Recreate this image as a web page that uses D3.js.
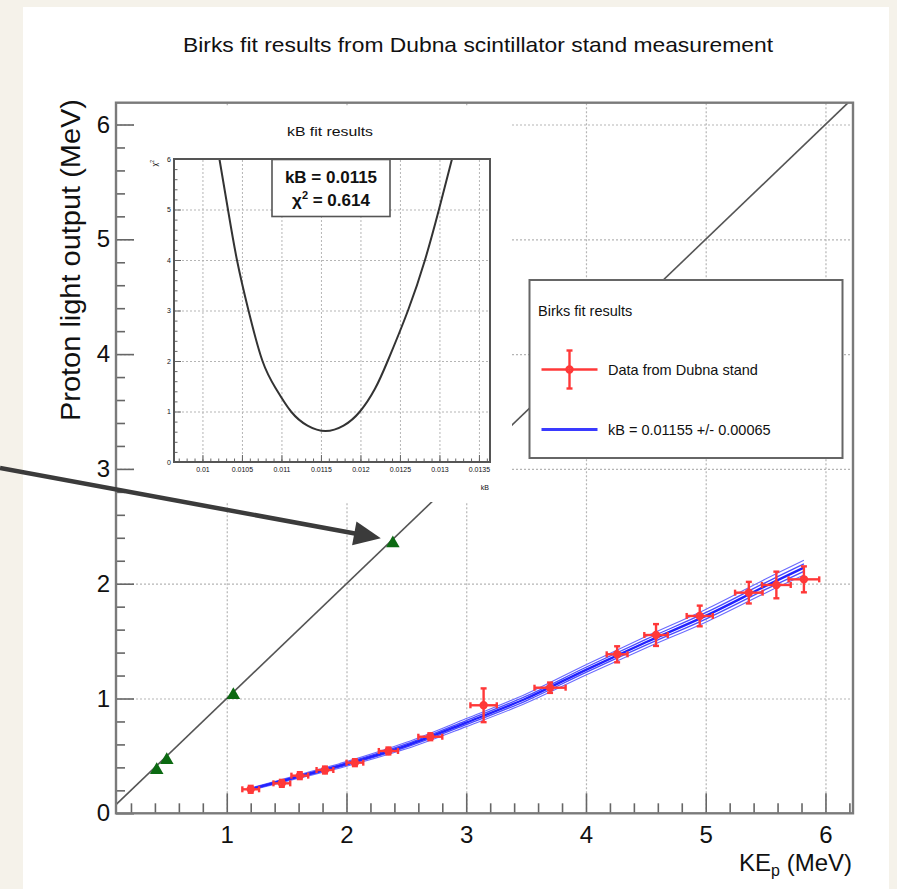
<!DOCTYPE html>
<html>
<head>
<meta charset="utf-8">
<script src="https://cdn.jsdelivr.net/npm/d3@7"></script>
<style>
  html, body { margin: 0; padding: 0; background: #f5f2ea; }
  svg { display: block; }
  text { font-family: "Liberation Sans", Arial, Helvetica, sans-serif; fill: #111; }
</style>
</head>
<body>
<svg id="chart" width="897" height="889"></svg>
<script>
// ---- Dubna stand measurements (proton kinetic energy vs light output) ----
const keP      = [1.20, 1.46, 1.61, 1.82, 2.07, 2.35, 2.70, 3.145, 3.70, 4.26, 4.585, 4.95, 5.36, 5.59, 5.82];
const lightOut = [0.209, 0.261, 0.328, 0.377, 0.441, 0.543, 0.667, 0.941, 1.094, 1.385, 1.553, 1.719, 1.922, 1.989, 2.038];
const keErr    = [0.07, 0.07, 0.07, 0.07, 0.07, 0.08, 0.10, 0.11, 0.13, 0.087, 0.098, 0.109, 0.115, 0.12, 0.128];
const lightErr = [0.03, 0.03, 0.03, 0.03, 0.03, 0.03, 0.03, 0.147, 0.045, 0.07, 0.095, 0.09, 0.094, 0.116, 0.113];

// ---- calibration points on the unit line ----
const calibX = [0.415, 0.499, 1.055, 2.387];
const calibY = [0.377, 0.464, 1.030, 2.352];
const unitLineX = [0.075, 6.19];
const unitLineY = [0.075, 6.19];

// ---- Birks curves: central kB and the +/- error variants ----
const fitKE      = [1.2, 1.6, 2.0, 2.5, 3.0, 3.5, 4.0, 4.5, 5.0, 5.5, 5.82];
const fitCentral = [0.210, 0.320, 0.430, 0.590, 0.790, 1.000, 1.250, 1.490, 1.720, 1.980, 2.140];
const fitOuterHi = [0.220, 0.335, 0.450, 0.618, 0.825, 1.040, 1.295, 1.540, 1.775, 2.040, 2.205];
const fitInnerHi = [0.215, 0.328, 0.440, 0.604, 0.808, 1.020, 1.272, 1.515, 1.748, 2.010, 2.172];
const fitInnerLo = [0.205, 0.312, 0.420, 0.576, 0.772, 0.980, 1.228, 1.465, 1.692, 1.950, 2.108];
const fitOuterLo = [0.200, 0.305, 0.410, 0.562, 0.755, 0.960, 1.205, 1.440, 1.665, 1.920, 2.075];

// ---- chi-square scan over kB ----
const kbScan   = [0.010215, 0.010323, 0.010437, 0.010583, 0.01076, 0.010931, 0.011121, 0.01133, 0.011558,
                  0.011786, 0.011994, 0.012184, 0.012345, 0.012602, 0.012817, 0.012994, 0.013159];
const chi2Scan = [6, 5, 4, 3, 2, 1.45, 1, 0.72, 0.614, 0.72, 1, 1.45, 2, 3, 4, 5, 6];

// ---- tick values ----
const xMajor = [1, 2, 3, 4, 5, 6];
const yMajor = [0, 1, 2, 3, 4, 5, 6];
const xMinor = d3.range(1, 32).map(i => +(i * 0.2).toFixed(2)).filter(v => !xMajor.includes(v));
const yMinor = d3.range(1, 31).map(i => +(i * 0.2).toFixed(2)).filter(v => !yMajor.includes(v));
const kbMajor = [0.01, 0.0105, 0.011, 0.0115, 0.012, 0.0125, 0.013, 0.0135];
const kbMinor = d3.range(97, 137).map(i => +(i * 0.0001).toFixed(4));
const chiMajor = [0, 1, 2, 3, 4, 5, 6];
const chiMinor = d3.range(1, 30).map(i => +(i * 0.2).toFixed(2)).filter(v => !chiMajor.includes(v));

const svg = d3.select("#chart");

// white canvas
svg.append("rect").attr("x", 23).attr("y", 7).attr("width", 866).attr("height", 890).attr("fill", "#fff");

// ---- main frame scales ----
const fx0 = 116, fx1 = 853, fy0 = 813.3, fy1 = 102.7;
const x = d3.scaleLinear().domain([0.075, 6.23]).range([fx0, fx1]);
const y = d3.scaleLinear().domain([0, 6.19]).range([fy0, fy1]);

// grid
const grid = svg.append("g").attr("class", "grid");
grid.append("g").attr("transform", `translate(0,${fy0})`)
  .call(d3.axisBottom(x).tickValues(xMajor).tickSize(-(fy0 - fy1)).tickFormat(""));
grid.append("g").attr("transform", `translate(${fx0},0)`)
  .call(d3.axisLeft(y).tickValues(yMajor.filter(v => v > 0)).tickSize(-(fx1 - fx0)).tickFormat(""));
grid.selectAll(".domain").remove();
grid.selectAll("line").attr("stroke", "#b5b5b5").attr("stroke-width", 1.2).attr("stroke-dasharray", "2,2");

// unit line
const line = d3.line().x(d => x(d[0])).y(d => y(d[1]));
svg.append("path").datum(d3.zip(unitLineX, unitLineY))
  .attr("d", line).attr("fill", "none").attr("stroke", "#555").attr("stroke-width", 1.6);

// calibration triangles
svg.append("g").selectAll("path").data(d3.zip(calibX, calibY)).join("path")
  .attr("transform", d => `translate(${x(d[0])},${y(d[1])})`)
  .attr("d", d3.symbol(d3.symbolTriangle, 80))
  .attr("fill", "#0c6a12");

// Birks curves
const fitLines = [
  { v: fitOuterHi, w: 1.1, c: "#6a6aff" },
  { v: fitOuterLo, w: 1.1, c: "#6a6aff" },
  { v: fitInnerHi, w: 1.3, c: "#4a4aff" },
  { v: fitInnerLo, w: 1.3, c: "#4a4aff" },
  { v: fitCentral, w: 2.4, c: "#2222ff" }
];
const fitLine = d3.line().x(d => x(d[0])).y(d => y(d[1])).curve(d3.curveCatmullRom);
svg.append("g").selectAll("path").data(fitLines).join("path")
  .attr("d", d => fitLine(d3.zip(fitKE, d.v)))
  .attr("fill", "none").attr("stroke", d => d.c).attr("stroke-width", d => d.w);

// data points with error bars
const red = "#ff3838";
const pts = keP.map((k, i) => ({ k, l: lightOut[i], ek: keErr[i], el: lightErr[i] }));
const eg = svg.append("g").attr("stroke", red).attr("stroke-width", 2.4).attr("fill", "none");
const cap = 3;
pts.forEach(p => {
  const cx = x(p.k), cy = y(p.l);
  const xl = x(p.k - p.ek), xr = x(p.k + p.ek), yt = y(p.l + p.el), yb = y(p.l - p.el);
  eg.append("line").attr("x1", xl).attr("x2", xr).attr("y1", cy).attr("y2", cy);
  eg.append("line").attr("x1", cx).attr("x2", cx).attr("y1", yt).attr("y2", yb);
  eg.append("line").attr("x1", xl).attr("x2", xl).attr("y1", cy - cap).attr("y2", cy + cap);
  eg.append("line").attr("x1", xr).attr("x2", xr).attr("y1", cy - cap).attr("y2", cy + cap);
  eg.append("line").attr("x1", cx - cap).attr("x2", cx + cap).attr("y1", yt).attr("y2", yt);
  eg.append("line").attr("x1", cx - cap).attr("x2", cx + cap).attr("y1", yb).attr("y2", yb);
  eg.append("circle").attr("cx", cx).attr("cy", cy).attr("r", 3).attr("fill", red).attr("fill-opacity", 0.6);
});

// axes with ticks drawn inside the frame
const axes = svg.append("g").attr("class", "axes");
axes.append("g").attr("transform", `translate(0,${fy0})`)
  .call(d3.axisBottom(x).tickValues(xMajor).tickSize(-20).tickPadding(13).tickFormat(d3.format("d")));
axes.append("g").attr("transform", `translate(0,${fy0})`)
  .call(d3.axisBottom(x).tickValues(xMinor).tickSize(-10).tickFormat(""));
axes.append("g").attr("transform", `translate(${fx0},0)`)
  .call(d3.axisLeft(y).tickValues(yMajor).tickSize(-18).tickPadding(6).tickFormat(d3.format("d")));
axes.append("g").attr("transform", `translate(${fx0},0)`)
  .call(d3.axisLeft(y).tickValues(yMinor).tickSize(-9).tickFormat(""));
axes.selectAll(".domain").remove();
axes.selectAll("line").attr("stroke", "#666").attr("stroke-width", 1.6);
axes.selectAll("text").attr("font-size", 24).attr("fill", "#222");

// frame
svg.append("rect").attr("x", fx0).attr("y", fy1).attr("width", fx1 - fx0).attr("height", fy0 - fy1)
  .attr("fill", "none").attr("stroke", "#7a7a7a").attr("stroke-width", 2.4);

// axis titles
const xt = svg.append("text").attr("x", 852).attr("y", 871).attr("text-anchor", "end").attr("font-size", 24);
xt.append("tspan").text("KE");
xt.append("tspan").text("p").attr("font-size", 16).attr("dy", 5);
xt.append("tspan").text(" (MeV)").attr("dy", -5);
svg.append("text").attr("transform", "translate(80,99) rotate(-90)").attr("text-anchor", "end")
  .attr("font-size", 27).attr("textLength", 322).attr("lengthAdjust", "spacingAndGlyphs")
  .text("Proton light output (MeV)");

// main title
svg.append("text").attr("x", 478).attr("y", 52).attr("text-anchor", "middle")
  .attr("font-family", "'Liberation Sans Narrow', 'Liberation Sans', Arial, sans-serif")
  .attr("font-size", 21).attr("textLength", 590).attr("lengthAdjust", "spacingAndGlyphs")
  .attr("fill", "#222")
  .text("Birks fit results from Dubna scintillator stand measurement");

// ---- inset: chi-square scan ----
svg.append("rect").attr("x", 134).attr("y", 106).attr("width", 378).attr("height", 396).attr("fill", "#fff");
const ix0 = 174, ix1 = 490, iy0 = 462, iy1 = 159;
const ix = d3.scaleLinear().domain([0.00964, 0.01364]).range([ix0, ix1]);
const iy = d3.scaleLinear().domain([0, 6]).range([iy0, iy1]);

const igrid = svg.append("g");
igrid.append("g").attr("transform", `translate(0,${iy0})`)
  .call(d3.axisBottom(ix).tickValues(kbMajor).tickSize(-(iy0 - iy1)).tickFormat(""));
igrid.append("g").attr("transform", `translate(${ix0},0)`)
  .call(d3.axisLeft(iy).tickValues(chiMajor.filter(v => v > 0 && v < 6)).tickSize(-(ix1 - ix0)).tickFormat(""));
igrid.selectAll(".domain").remove();
igrid.selectAll("line").attr("stroke", "#b5b5b5").attr("stroke-width", 1).attr("stroke-dasharray", "2,2");

const ilin = d3.line().x(d => ix(d[0])).y(d => iy(d[1])).curve(d3.curveNatural);
svg.append("path").datum(d3.zip(kbScan, chi2Scan)).attr("d", ilin)
  .attr("fill", "none").attr("stroke", "#333").attr("stroke-width", 2);

const iaxes = svg.append("g");
iaxes.append("g").attr("transform", `translate(0,${iy0})`)
  .call(d3.axisBottom(ix).tickValues(kbMajor).tickSize(-7).tickPadding(5).tickFormat(d => String(+d.toFixed(4))));
iaxes.append("g").attr("transform", `translate(0,${iy0})`)
  .call(d3.axisBottom(ix).tickValues(kbMinor).tickSize(-3.5).tickFormat(""));
iaxes.append("g").attr("transform", `translate(${ix0},0)`)
  .call(d3.axisLeft(iy).tickValues(chiMajor).tickSize(-7).tickPadding(3).tickFormat(d3.format("d")));
iaxes.append("g").attr("transform", `translate(${ix0},0)`)
  .call(d3.axisLeft(iy).tickValues(chiMinor).tickSize(-3.5).tickFormat(""));
iaxes.selectAll(".domain").remove();
iaxes.selectAll("line").attr("stroke", "#666").attr("stroke-width", 1);
iaxes.selectAll("text").attr("font-size", 7).attr("fill", "#444");

svg.append("rect").attr("x", ix0).attr("y", iy1).attr("width", ix1 - ix0).attr("height", iy0 - iy1)
  .attr("fill", "none").attr("stroke", "#555").attr("stroke-width", 2);

svg.append("text").attr("x", 330).attr("y", 136).attr("text-anchor", "middle").attr("font-size", 13)
  .attr("textLength", 86).attr("lengthAdjust", "spacingAndGlyphs")
  .attr("fill", "#333").text("kB fit results");
svg.append("text").attr("x", 489).attr("y", 490).attr("text-anchor", "end").attr("font-size", 7)
  .attr("fill", "#444").text("kB");
const ylab = svg.append("text").attr("transform", "translate(157,160) rotate(-90)").attr("text-anchor", "end")
  .attr("font-size", 7).attr("fill", "#444");
ylab.append("tspan").text("χ");
ylab.append("tspan").text("2").attr("font-size", 5).attr("dy", -3);

// fit summary box
svg.append("rect").attr("x", 272).attr("y", 159.5).attr("width", 118).attr("height", 57)
  .attr("fill", "#fff").attr("stroke", "#555").attr("stroke-width", 1.6);
svg.append("text").attr("x", 331).attr("y", 183).attr("text-anchor", "middle")
  .attr("font-size", 17).attr("font-weight", "bold").text("kB = 0.0115");
const chiTxt = svg.append("text").attr("x", 331).attr("y", 206).attr("text-anchor", "middle")
  .attr("font-size", 17).attr("font-weight", "bold");
chiTxt.append("tspan").text("χ");
chiTxt.append("tspan").text("2").attr("font-size", 11).attr("dy", -7);
chiTxt.append("tspan").text(" = 0.614").attr("dy", 7);

// ---- legend ----
svg.append("rect").attr("x", 529.5).attr("y", 280).attr("width", 313).attr("height", 178)
  .attr("fill", "#fff").attr("stroke", "#666").attr("stroke-width", 2);
svg.append("text").attr("x", 538).attr("y", 316).attr("font-size", 14.5).attr("fill", "#333")
  .text("Birks fit results");
const lg = svg.append("g").attr("stroke", red).attr("stroke-width", 2.4).attr("fill", "none");
const lcx = 569.5, lcy = 369.5;
lg.append("line").attr("x1", lcx - 28).attr("x2", lcx + 28).attr("y1", lcy).attr("y2", lcy);
lg.append("line").attr("x1", lcx).attr("x2", lcx).attr("y1", lcy - 19).attr("y2", lcy + 19);
lg.append("line").attr("x1", lcx - 3).attr("x2", lcx + 3).attr("y1", lcy - 19).attr("y2", lcy - 19);
lg.append("line").attr("x1", lcx - 3).attr("x2", lcx + 3).attr("y1", lcy + 19).attr("y2", lcy + 19);
lg.append("circle").attr("cx", lcx).attr("cy", lcy).attr("r", 3);
svg.append("text").attr("x", 608).attr("y", 375).attr("font-size", 14.5).attr("fill", "#333")
  .text("Data from Dubna stand");
svg.append("line").attr("x1", 541.5).attr("x2", 597.5).attr("y1", 429.5).attr("y2", 429.5)
  .attr("stroke", "#3a3aff").attr("stroke-width", 3);
svg.append("text").attr("x", 608).attr("y", 435).attr("font-size", 14.5).attr("fill", "#333")
  .text("kB = 0.01155 +/- 0.00065");

// ---- annotation arrow pointing at the highest calibration point ----
const tipX = x(calibX[3]) - 12, tipY = y(calibY[3]) - 5;
const sx = 0, sy = 468;
const ang = Math.atan2(tipY - sy, tipX - sx);
const headL = 27, headW = 12;
const bx = tipX - headL * Math.cos(ang), by = tipY - headL * Math.sin(ang);
svg.append("line").attr("x1", sx).attr("y1", sy).attr("x2", bx + 2 * Math.cos(ang)).attr("y2", by + 2 * Math.sin(ang))
  .attr("stroke", "#3b3b3b").attr("stroke-width", 4.5);
svg.append("path")
  .attr("d", d3.line()([
    [tipX, tipY],
    [bx - headW * Math.sin(ang), by + headW * Math.cos(ang)],
    [bx + headW * Math.sin(ang), by - headW * Math.cos(ang)]
  ]) + "Z")
  .attr("fill", "#3b3b3b");
</script>
</body>
</html>
